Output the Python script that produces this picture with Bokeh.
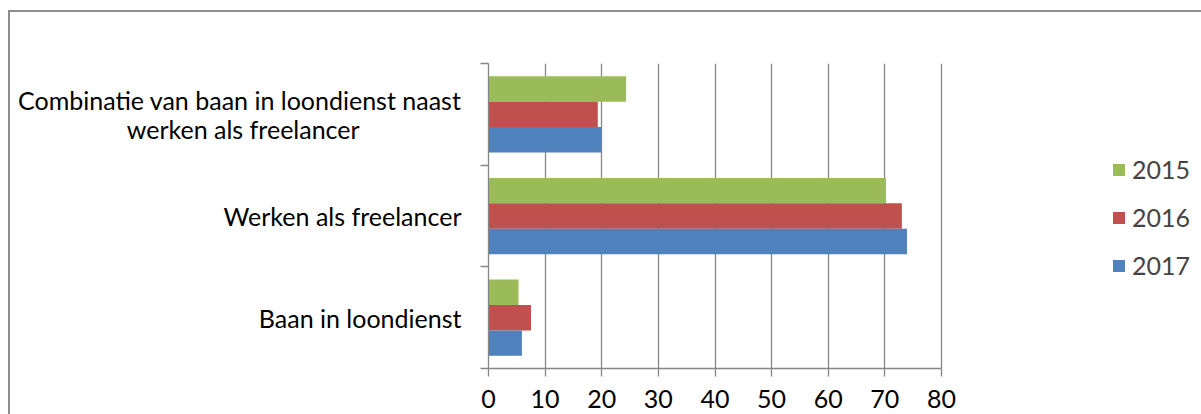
from bokeh.plotting import figure
from bokeh.models import (ColumnDataSource, FixedTicker, Legend, LegendItem, Range1d)
from bokeh.transform import dodge
from bokeh.embed import file_html
from bokeh.resources import INLINE

NB = "\u00a0"
categories = ["Baan in loondienst",
              "Werken als freelancer",
              "Combinatie van baan in loondienst naast\nwerken als freelancer" + NB * 16]
years = ["2015", "2016", "2017"]
v2015 = [5.3, 70.2, 24.3]
v2016 = [7.5, 73.0, 19.3]
v2017 = [5.9, 73.9, 19.9]
colors = ["#9BBB59", "#C0504D", "#4F81BD"]
x_ticks = [0, 10, 20, 30, 40, 50, 60, 70, 80]
X_MAX = 80

FONT = "Lato"
FS = "25px"
GRAY = "#868686"

# layout: the value axis spans 453px; the frame extends to the right edge to hold the legend
AXIS_PX = 453
FRAME_W = 713
x_end = X_MAX * FRAME_W / AXIS_PX

pos = [i + 0.5 for i in range(len(categories))]
src = ColumnDataSource(dict(y=pos, v2015=v2015, v2016=v2016, v2017=v2017))

p = figure(frame_width=FRAME_W, frame_height=305, output_backend="svg", toolbar_location=None,
           x_range=Range1d(0, x_end), y_range=Range1d(0, len(categories)),
           min_border_left=478, min_border_right=0, min_border_top=51, min_border_bottom=46)
p.styles = {"margin-left": "8px", "margin-top": "10px",
            "border-top": "2px solid #8e8e8e", "border-left": "2px solid #8e8e8e"}
p.outline_line_color = None
p.background_fill_color = "white"

offsets = [0.25, 0.0, -0.25]
series = ["v2015", "v2016", "v2017"]
rends = []
for s, off, c in zip(series, offsets, colors):
    r = p.hbar(y=dodge("y", off), right=s, left=0, height=0.25, source=src,
               fill_color=c, line_color=None)
    rends.append(r)

# x axis
p.xaxis.ticker = FixedTicker(ticks=x_ticks)
p.xaxis.bounds = (0, X_MAX)
p.xaxis.axis_line_color = GRAY
p.xaxis.axis_line_width = 1.3
p.xaxis.major_tick_line_color = GRAY
p.xaxis.major_tick_line_width = 1.3
p.xaxis.major_tick_out = 8
p.xaxis.major_tick_in = 0
p.xaxis.minor_tick_line_color = None
p.xaxis.major_label_text_font = FONT
p.xaxis.major_label_text_font_size = FS
p.xaxis.major_label_text_color = "black"
p.xaxis.major_label_standoff = 13

# y axis: labels at centers, ticks at boundaries
p.yaxis.ticker = FixedTicker(ticks=pos, minor_ticks=list(range(len(categories) + 1)))
p.yaxis.major_label_overrides = {pv: c for pv, c in zip(pos, categories)}
p.yaxis.axis_line_color = GRAY
p.yaxis.axis_line_width = 1.3
p.yaxis.major_tick_line_color = None
p.yaxis.minor_tick_line_color = GRAY
p.yaxis.minor_tick_line_width = 1.3
p.yaxis.minor_tick_out = 8
p.yaxis.minor_tick_in = 0
p.yaxis.major_tick_out = 8
p.yaxis.major_label_text_font = FONT
p.yaxis.major_label_text_font_size = FS
p.yaxis.major_label_text_color = "black"
p.yaxis.major_label_text_line_height = 0.97
p.yaxis.major_label_standoff = 19

p.xgrid.ticker = FixedTicker(ticks=x_ticks)
p.xgrid.grid_line_color = GRAY
p.xgrid.grid_line_width = 1.3
p.ygrid.visible = False

items = [LegendItem(label=y, renderers=[r]) for y, r in zip(years, rends)]
legend = Legend(items=items, location=(623, 88), padding=0, margin=0,
                border_line_color=None, background_fill_alpha=0,
                glyph_width=15, glyph_height=15, label_standoff=6,
                label_height=30, spacing=18,
                label_text_font=FONT, label_text_font_size=FS)
p.add_layout(legend, "center")

open("out.html", "w").write(file_html(p, INLINE))
